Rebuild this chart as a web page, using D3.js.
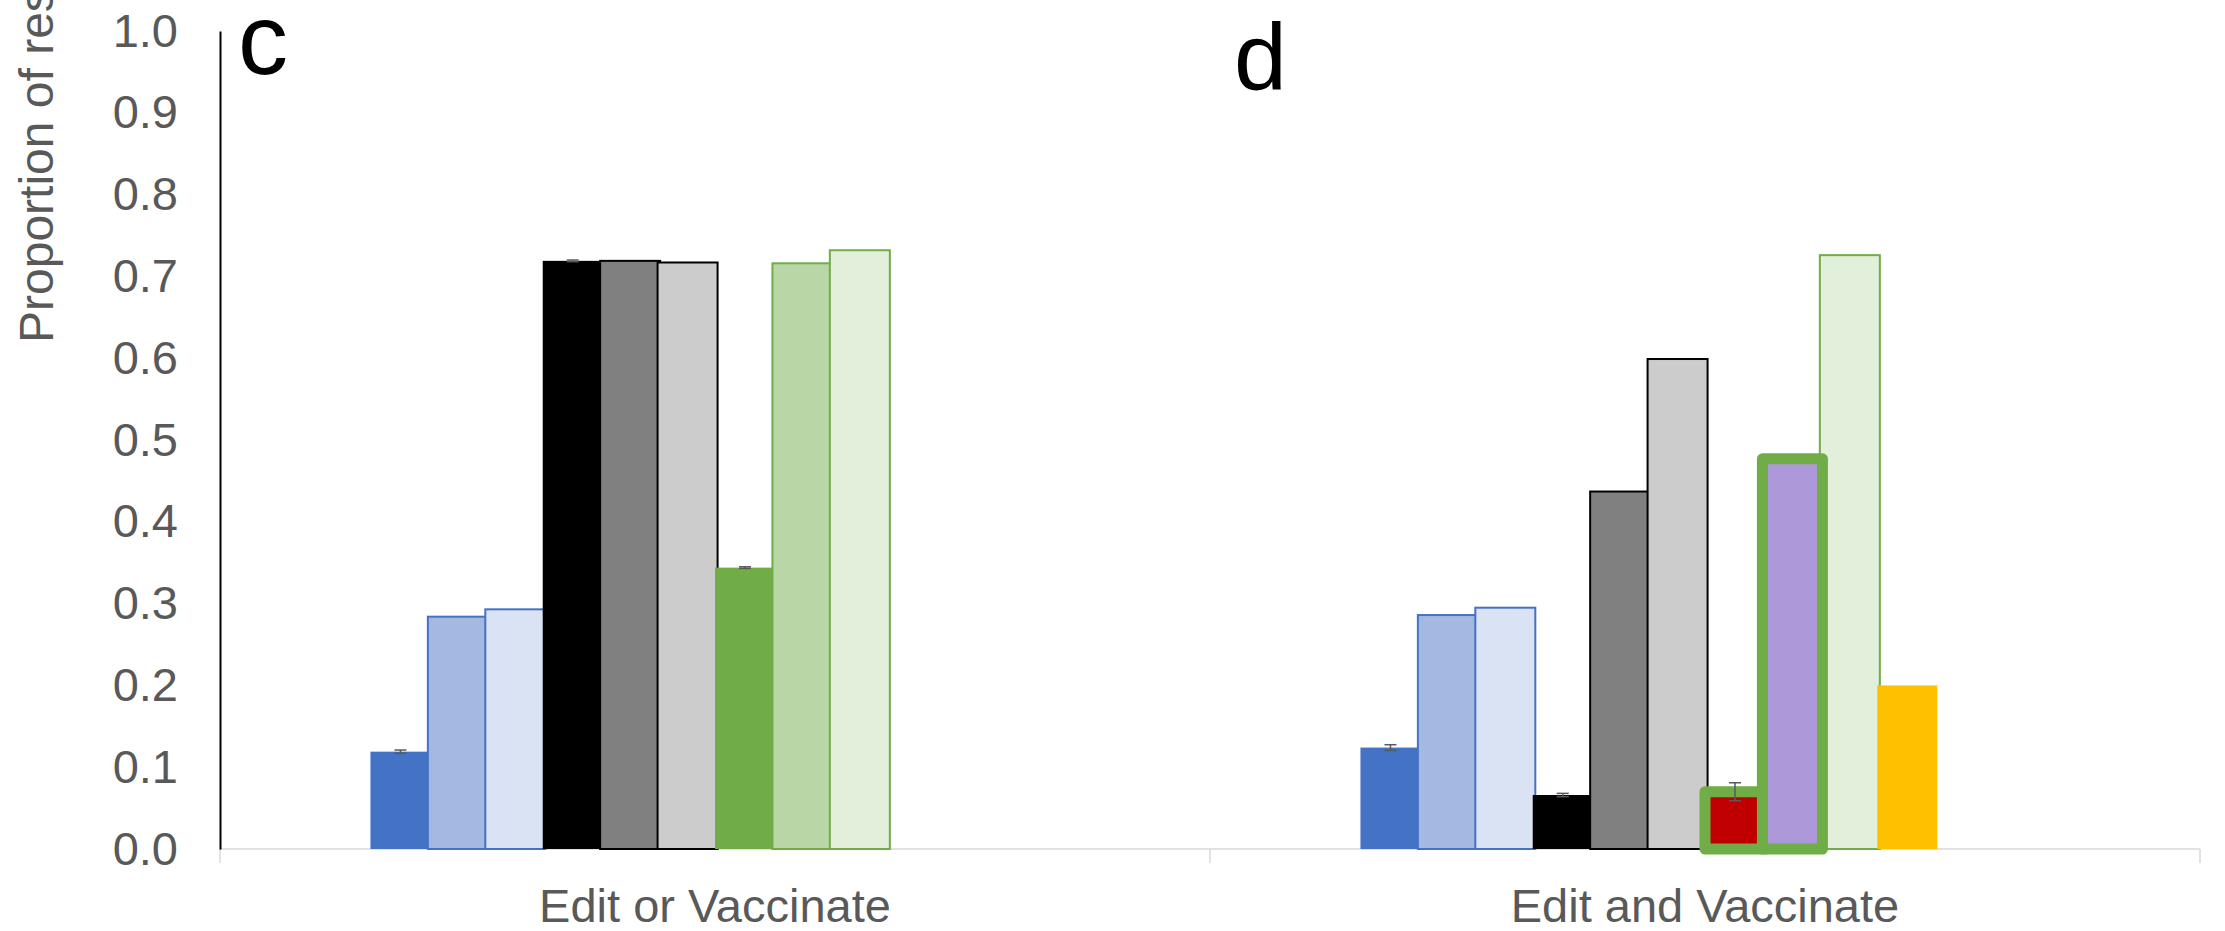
<!DOCTYPE html>
<html>
<head>
<meta charset="utf-8">
<script src="https://cdn.jsdelivr.net/npm/d3@7"></script>
<style>
  body { margin: 0; background: #fff; }
  svg { display: block; font-family: "Liberation Sans", Arial, sans-serif; }
</style>
</head>
<body>
<script>
// DATA
var categories = ["Edit or Vaccinate", "Edit and Vaccinate"];
var panelLetters = ["c", "d"];
var yTicks = [0, 0.1, 0.2, 0.3, 0.4, 0.5, 0.6, 0.7, 0.8, 0.9, 1.0];

// panel c : edit or vaccinate
var orValues = [0.119, 0.284, 0.293, 0.719, 0.719, 0.717, 0.344, 0.716, 0.732];
var orErrors = [0.002, 0, 0, 0.001, 0, 0, 0.001, 0, 0];
// panel d : edit and vaccinate
var andValues = [0.124, 0.286, 0.295, 0.066, 0.437, 0.599, 0.070, 0.477, 0.726, 0.200];
var andErrors = [0.0035, 0, 0, 0.002, 0, 0, 0.011, 0, 0, 0];

// styles for each bar
var orFills   = ["#4472C4", "#A3B9E2", "#DAE3F3", "#000000", "#808080", "#CCCCCC", "#70AD47", "#B9D7A6", "#E2EFDA"];
var orStrokes = ["none", "#4472C4", "#4472C4", "none", "#000000", "#000000", "none", "#70AD47", "#70AD47"];
var andFills   = ["#4472C4", "#A3B9E2", "#DAE3F3", "#000000", "#808080", "#CCCCCC", "#C00000", "#AD99D9", "#E2EFDA", "#FFC000"];
var andStrokes = ["none", "#4472C4", "#4472C4", "none", "#000000", "#000000", "#70AD47", "#70AD47", "#70AD47", "none"];
var andThick   = [false, false, false, false, false, false, true, true, false, false];

var nSlots = 12;

// SETUP
var width = 2225,
    height = 931,
    margin = {top: 31, right: 25, bottom: 82, left: 220};

var svg = d3.select("body").append("svg")
    .attr("width", width)
    .attr("height", height);

var x0 = d3.scaleBand()
    .domain(categories)
    .range([margin.left, width - margin.right])
    .paddingInner(0)
    .paddingOuter(0);

var x1 = d3.scaleBand()
    .domain(d3.range(nSlots))
    .range([0, x0.bandwidth()])
    .paddingInner(0)
    .paddingOuter(2.62);

var y = d3.scaleLinear()
    .domain([0, 1])
    .range([height - margin.bottom, margin.top]);

function makeBars(cat, values, errors, fills, strokes, thick) {
  return values.map(function(v, i) {
    return {
      cat: cat, slot: i, value: v, err: errors[i],
      fill: fills[i], stroke: strokes[i], thick: thick ? thick[i] : false
    };
  });
}

var bars = makeBars(categories[0], orValues, orErrors, orFills, orStrokes)
  .concat(makeBars(categories[1], andValues, andErrors, andFills, andStrokes, andThick));
// thick outlined bars go on top
bars.sort(function(a, b) { return (a.thick ? 1 : 0) - (b.thick ? 1 : 0); });

var barW = x1.bandwidth() * 1.045;

// x baseline + ticks
var xAxis = svg.append("g")
    .attr("transform", "translate(0," + y(0) + ")");

xAxis.append("line")
    .attr("x1", margin.left).attr("x2", width - margin.right)
    .attr("stroke", "#D9D9D9").attr("stroke-width", 1.5);

xAxis.selectAll("line.tick")
  .data([margin.left, margin.left + x0.bandwidth(), width - margin.right])
  .enter().append("line")
    .attr("class", "tick")
    .attr("x1", function(d) { return d; }).attr("x2", function(d) { return d; })
    .attr("y1", 0).attr("y2", 14)
    .attr("stroke", "#D9D9D9").attr("stroke-width", 1.5);

xAxis.selectAll("text")
  .data(categories)
  .enter().append("text")
    .attr("x", function(d) { return x0(d) + x0.bandwidth() / 2; })
    .attr("y", 73)
    .attr("text-anchor", "middle")
    .attr("font-size", 47)
    .attr("fill", "#595959")
    .text(function(d) { return d; });

// bars
var g = svg.append("g");

g.selectAll("rect")
  .data(bars)
  .enter().append("rect")
    .attr("x", function(d) { return x0(d.cat) + x1(d.slot); })
    .attr("y", function(d) { return y(d.value); })
    .attr("width", barW)
    .attr("height", function(d) { return y(0) - y(d.value); })
    .attr("fill", function(d) { return d.fill; })
    .attr("stroke", function(d) { return d.stroke; })
    .attr("stroke-width", function(d) { return d.thick ? 11 : 2; })
    .attr("stroke-linejoin", function(d) { return d.thick ? "round" : "miter"; });

// error bars
var eb = g.selectAll("g.err")
  .data(bars.filter(function(d) { return d.err > 0; }))
  .enter().append("g")
    .attr("class", "err")
    .attr("stroke", "#595959")
    .attr("stroke-width", 1.5);

eb.append("line")
    .attr("x1", function(d) { return x0(d.cat) + x1(d.slot) + barW / 2; })
    .attr("x2", function(d) { return x0(d.cat) + x1(d.slot) + barW / 2; })
    .attr("y1", function(d) { return y(d.value - d.err); })
    .attr("y2", function(d) { return y(d.value + d.err); });

[-1, 1].forEach(function(s) {
  eb.append("line")
      .attr("x1", function(d) { return x0(d.cat) + x1(d.slot) + barW / 2 - 6; })
      .attr("x2", function(d) { return x0(d.cat) + x1(d.slot) + barW / 2 + 6; })
      .attr("y1", function(d) { return y(d.value + s * d.err); })
      .attr("y2", function(d) { return y(d.value + s * d.err); });
});

// y axis
var yAxis = svg.append("g")
    .attr("transform", "translate(" + margin.left + ",0)")
    .call(d3.axisLeft(y).tickValues(yTicks).tickFormat(d3.format(".1f")).tickSize(0).tickPadding(42));

yAxis.select(".domain")
    .attr("stroke", "#000")
    .attr("stroke-width", 2);

yAxis.selectAll("text")
    .attr("font-family", "Liberation Sans, Arial, sans-serif")
    .attr("font-size", 47)
    .attr("fill", "#595959");

// y title (runs off the top of the picture)
svg.append("text")
    .attr("transform", "translate(53,343) rotate(-90)")
    .attr("font-size", 48)
    .attr("fill", "#595959")
    .text("Proportion of res");

// panel letters
svg.append("text")
    .attr("x", 238).attr("y", 74)
    .attr("font-size", 100)
    .attr("fill", "#000")
    .text(panelLetters[0]);

svg.append("text")
    .attr("x", 1234).attr("y", 90)
    .attr("font-size", 95)
    .attr("fill", "#000")
    .text(panelLetters[1]);
</script>
</body>
</html>
